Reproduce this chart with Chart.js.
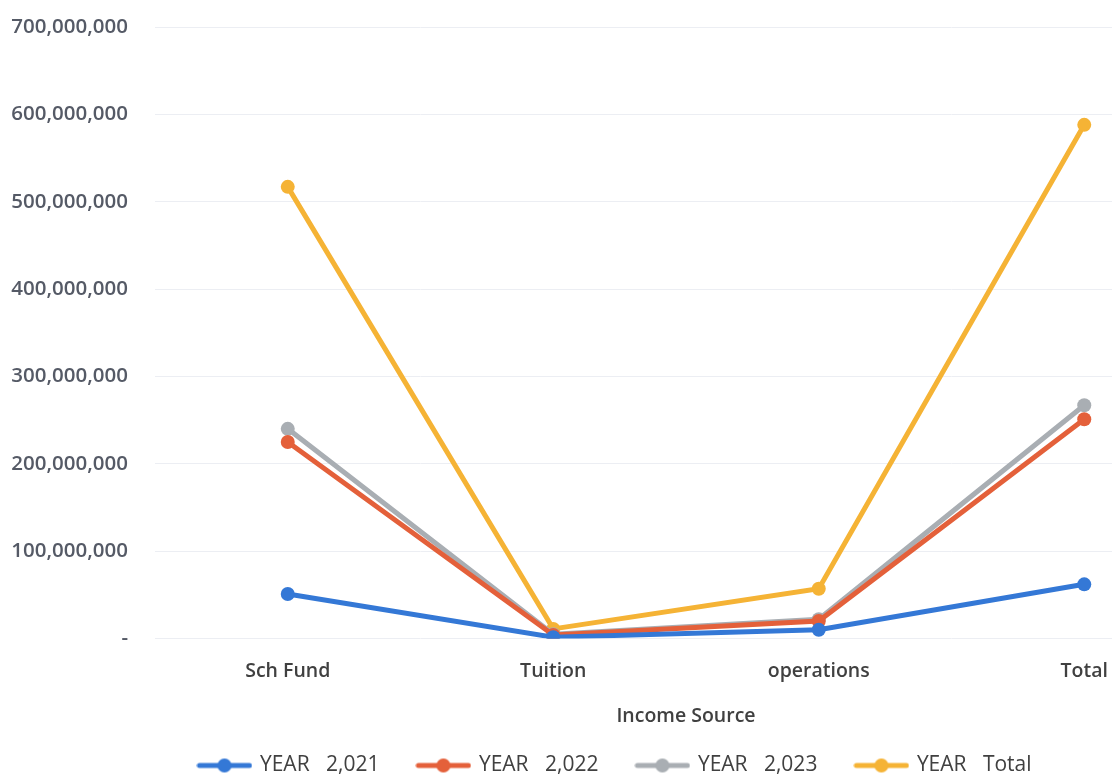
<!DOCTYPE html>
<html>
<head>
<meta charset="utf-8">
<script src="https://cdn.jsdelivr.net/npm/chart.js@4.4.1/dist/chart.umd.min.js"></script>
<style>
  html, body { margin: 0; padding: 0; background: #ffffff; overflow: hidden; }
  #wrap { width: 1234px; height: 775px; }
</style>
</head>
<body>
<div id="wrap"><canvas id="chart" width="1234" height="775"></canvas></div>
<script>
// Income by source, per year and combined
const categories = ['Sch Fund', 'Tuition', 'operations', 'Total'];
const year2021 = [51000000, 1500000, 10000000, 62000000];
const year2022 = [225000000, 4000000, 20000000, 251000000];
const year2023 = [240000000, 5000000, 22000000, 267000000];
const yearTotal = [517000000, 11000000, 57000000, 588000000];
const seriesNames = ['YEAR   2,021', 'YEAR   2,022', 'YEAR   2,023', 'YEAR   Total'];
const seriesColors = ['#3478d6', '#e4603a', '#a9aeb3', '#f5b335'];
const yTicks = [0, 100000000, 200000000, 300000000, 400000000, 500000000, 600000000, 700000000];

// Legend swatch: short line with a dot in the middle
function swatch(color) {
  const c = document.createElement('canvas');
  c.width = 56; c.height = 16;
  const g = c.getContext('2d');
  g.strokeStyle = color; g.lineWidth = 5; g.lineCap = 'round';
  g.beginPath(); g.moveTo(3, 8); g.lineTo(53, 8); g.stroke();
  g.fillStyle = color;
  g.beginPath(); g.arc(28, 8, 7, 0, Math.PI * 2); g.fill();
  return c;
}

const seriesData = [year2021, year2022, year2023, yearTotal];
const datasets = seriesData.map((d, i) => ({
  label: seriesNames[i],
  data: d,
  borderColor: seriesColors[i],
  backgroundColor: seriesColors[i],
  borderWidth: 5,
  pointRadius: 7,
  pointHoverRadius: 7,
  pointBorderWidth: 0,
  tension: 0,
  fill: false
}));

const fmt = v => v === 0 ? '-' : v.toLocaleString('en-US');

// Legend strip takes a fixed 52px in the layout; its drawing box is then moved and enlarged
const legendPlacement = {
  id: 'legendPlacement',
  afterInit(chart) {
    const lg = chart.legend;
    if (!lg) return;
    const fit = lg.fit;
    lg.fit = function () { fit.call(this); this.height = 52; };
  },
  afterLayout(chart) {
    const lg = chart.legend;
    if (!lg) return;
    lg.left += 7;
    lg.right += 7;
    lg.top -= 7;
    lg.height = 90;
    lg.bottom = lg.top + 90;
  }
};

new Chart(document.getElementById('chart'), {
  type: 'line',
  data: { labels: categories, datasets: datasets },
  plugins: [legendPlacement],
  options: {
    responsive: false,
    animation: false,
    layout: { padding: { top: 0, right: 17, left: 0, bottom: 0 } },
    plugins: {
      tooltip: { enabled: false },
      legend: {
        position: 'bottom',
        labels: {
          usePointStyle: true,
          pointStyleWidth: 50,
          padding: 39,
          font: { family: 'Open Sans', size: 21, weight: 'normal' },
          color: '#404040',
          generateLabels: chart => chart.data.datasets.map((ds, i) => ({
            text: ds.label,
            pointStyle: swatch(seriesColors[i]),
            fillStyle: seriesColors[i],
            strokeStyle: seriesColors[i],
            lineWidth: 0,
            datasetIndex: i,
            hidden: false,
            fontColor: '#404040'
          }))
        }
      }
    },
    scales: {
      x: {
        offset: true,
        afterFit: axis => { axis.height = 84.5; },
        grid: { display: false },
        border: { display: false },
        ticks: {
          padding: 13,
          color: '#404040',
          font: { family: 'Open Sans', size: 19.5, weight: '600' }
        },
        title: {
          display: true,
          text: 'Income Source',
          color: '#404040',
          padding: { top: 0, bottom: -3 },
          font: { family: 'Open Sans', size: 19.5, weight: '600', lineHeight: 1 }
        }
      },
      y: {
        min: 0,
        max: 700000000,
        afterBuildTicks: axis => { axis.ticks = yTicks.map(v => ({ value: v })); },
        afterFit: axis => { axis.width = 155; axis.paddingTop = 27; },
        grid: { color: '#eceef3', lineWidth: 1, drawTicks: false },
        border: { display: false },
        ticks: {
          padding: 27,
          color: '#555a66',
          font: { family: 'Open Sans', size: 20.5, weight: '600' },
          callback: v => fmt(v)
        }
      }
    }
  }
});
</script>
</body>
</html>
